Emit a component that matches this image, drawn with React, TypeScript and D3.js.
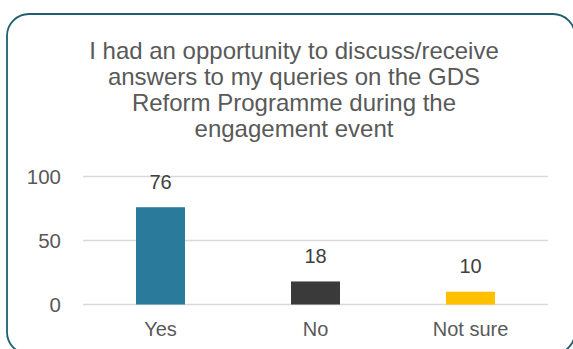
import React from "react";
import * as d3 from "d3";

const titleLines = [
  "I had an opportunity to discuss/receive",
  "answers to my queries on the GDS",
  "Reform Programme during the",
  "engagement event",
];
const categories = ["Yes", "No", "Not sure"];
const values = [76, 18, 10];
const barColors = ["#2a7b9b", "#3a3a3a", "#ffc000"];
const yTicks = [0, 50, 100];

const W = 573;
const H = 349;

export default function App() {
  const x = d3
    .scaleBand<string>()
    .domain(categories)
    .range([83, 548])
    .paddingInner(0.684)
    .paddingOuter(0.342);
  const y = d3.scaleLinear().domain([0, 100]).range([304.5, 176.5]);
  const font = "'Liberation Sans', Arial, sans-serif";

  return (
    <svg
      width={W}
      height={H}
      style={{ position: "absolute", left: 0, top: 0, background: "#fff" }}
    >
      <rect
        x={7}
        y={14}
        width={568}
        height={340}
        rx={22}
        ry={22}
        fill="#fff"
        stroke="#1f5f70"
        strokeWidth={1.8}
      />
      {titleLines.map((t, i) => (
        <text
          key={i}
          x={294}
          y={58.5 + i * 26.2}
          textAnchor="middle"
          fontFamily={font}
          fontSize={24}
          fill="#595959"
        >
          {t}
        </text>
      ))}
      {yTicks.map((t) => (
        <g key={t}>
          <line
            x1={83}
            x2={548}
            y1={y(t)}
            y2={y(t)}
            stroke="#d9d9d9"
            strokeWidth={1.5}
          />
          <text
            x={61}
            y={y(t)}
            dy="0.36em"
            textAnchor="end"
            fontFamily={font}
            fontSize={20.5}
            fill="#595959"
          >
            {t}
          </text>
        </g>
      ))}
      {categories.map((c, i) => (
        <g key={c}>
          <rect
            x={x(c)}
            y={y(values[i])}
            width={x.bandwidth()}
            height={y(0) - y(values[i])}
            fill={barColors[i]}
          />
          <text
            x={(x(c) as number) + x.bandwidth() / 2}
            y={y(values[i]) - 18.5}
            textAnchor="middle"
            fontFamily={font}
            fontSize={20}
            fill="#404040"
          >
            {values[i]}
          </text>
          <text
            x={(x(c) as number) + x.bandwidth() / 2}
            y={335.7}
            textAnchor="middle"
            fontFamily={font}
            fontSize={20}
            fill="#595959"
          >
            {c}
          </text>
        </g>
      ))}
    </svg>
  );
}
